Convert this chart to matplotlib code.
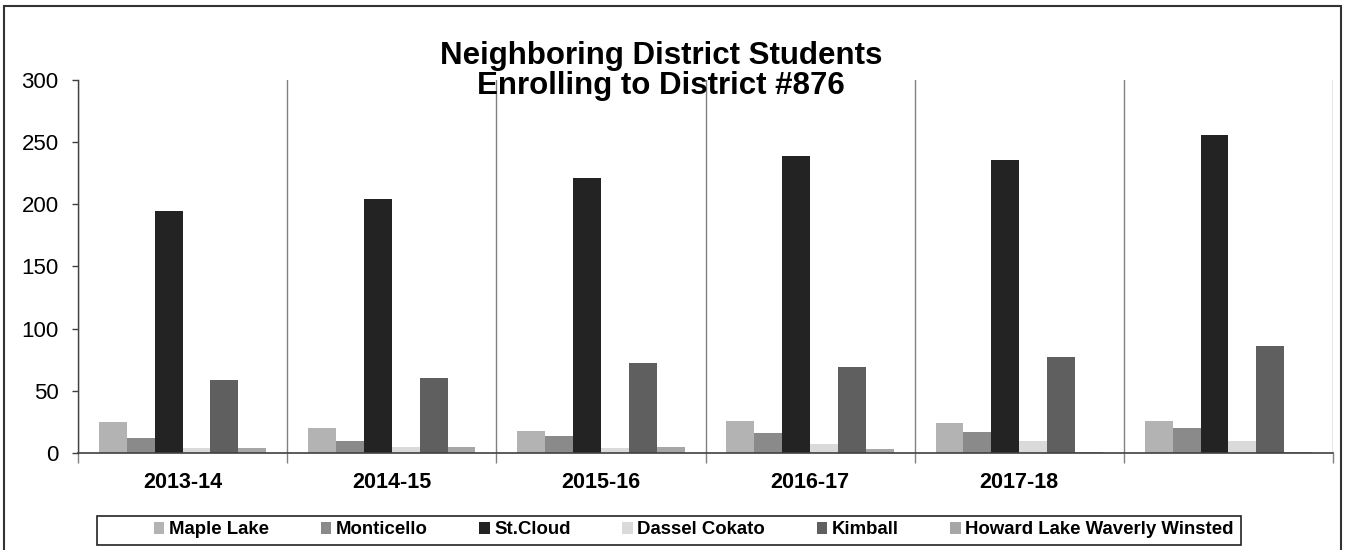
import numpy as np
import matplotlib
matplotlib.use('Agg')
import matplotlib.pyplot as plt
from matplotlib.patches import Rectangle

plt.rcParams['font.family'] = ['Liberation Sans', 'DejaVu Sans']

# data
years = ['2013-14', '2014-15', '2015-16', '2016-17', '2017-18', '']
districts = ['Maple Lake', 'Monticello', 'St.Cloud', 'Dassel Cokato', 'Kimball',
             'Howard Lake Waverly Winsted']
maple_lake = [25, 20, 18, 26, 24, 26]
monticello = [12, 10, 14, 16, 17, 20]
st_cloud = [195, 204, 221, 239, 236, 256]
dassel_cokato = [4, 5, 4, 7, 10, 10]
kimball = [59, 60, 72, 69, 77, 86]
howard_lake = [4, 5, 5, 3, 1, 1]
series = [maple_lake, monticello, st_cloud, dassel_cokato, kimball, howard_lake]
colors = ['#b3b3b3', '#8a8a8a', '#232323', '#dadada', '#5f5f5f', '#a6a6a6']

W, H = 1346, 550
fig = plt.figure(figsize=(W / 100, H / 100), dpi=100)
ax = fig.add_axes([78 / W, 1 - 453 / H, (1333 - 78) / W, (453 - 80) / H])

x = np.arange(len(years))
bw = 0.8 / len(series)
for i, (vals, col, name) in enumerate(zip(series, colors, districts)):
    ax.bar(x + (i - 2.5) * bw, vals, width=bw, color=col, label=name,
           edgecolor='none', zorder=3)

ax.set_xlim(-0.5, len(years) - 0.5)
ax.set_ylim(0, 300)
ax.set_yticks(range(0, 301, 50))
ax.tick_params(axis='y', labelsize=16, length=4, width=1, color='#404040', pad=10)

# category boundaries carry the gridlines and ticks, labels sit at the centers
ax.set_xticks(np.arange(-0.5, len(years), 1.0))
ax.set_xticklabels([])
ax.set_xticks(x, minor=True)
ax.set_xticklabels(years, minor=True, fontsize=15.5, fontweight='bold')
ax.tick_params(axis='x', which='major', length=7, width=1, color='#808080',
               direction='out')
ax.tick_params(axis='x', which='minor', length=0, pad=14)
ax.grid(axis='x', which='major', color='#808080', linewidth=1, zorder=1)

for s in ['top', 'right']:
    ax.spines[s].set_visible(False)
ax.spines['left'].set_color('#404040')
ax.spines['bottom'].set_color('#404040')
ax.spines['left'].set_linewidth(1)
ax.spines['bottom'].set_linewidth(1.2)
ax.spines['bottom'].set_zorder(4)

fig.text(661 / W, 1 - 41 / H, 'Neighboring District Students\nEnrolling to District #876',
         ha='center', va='top', fontsize=22.5, fontweight='bold', linespacing=0.98)

# legend entries without frame, box drawn separately (Excel leaves extra room on the left)
leg = fig.legend(loc='center', bbox_to_anchor=(694 / W, 1 - 530 / H), ncol=6,
                 frameon=False, prop={'size': 13.4, 'weight': 'bold'},
                 handlelength=0.55, handleheight=0.55, handletextpad=0.25,
                 columnspacing=2.78, borderpad=0.0)
fig.patches.append(Rectangle((97 / W, 1 - 545 / H), (1241 - 97) / W, 29 / H,
                             transform=fig.transFigure, fill=False,
                             edgecolor='#222222', linewidth=1.2))

fig.patches.append(Rectangle((4 / W, -0.05), (1341 - 4) / W, 1.05 - 6 / H,
                             transform=fig.transFigure, fill=False,
                             edgecolor='#333333', linewidth=1.5))

fig.savefig('out.png', dpi=100)
